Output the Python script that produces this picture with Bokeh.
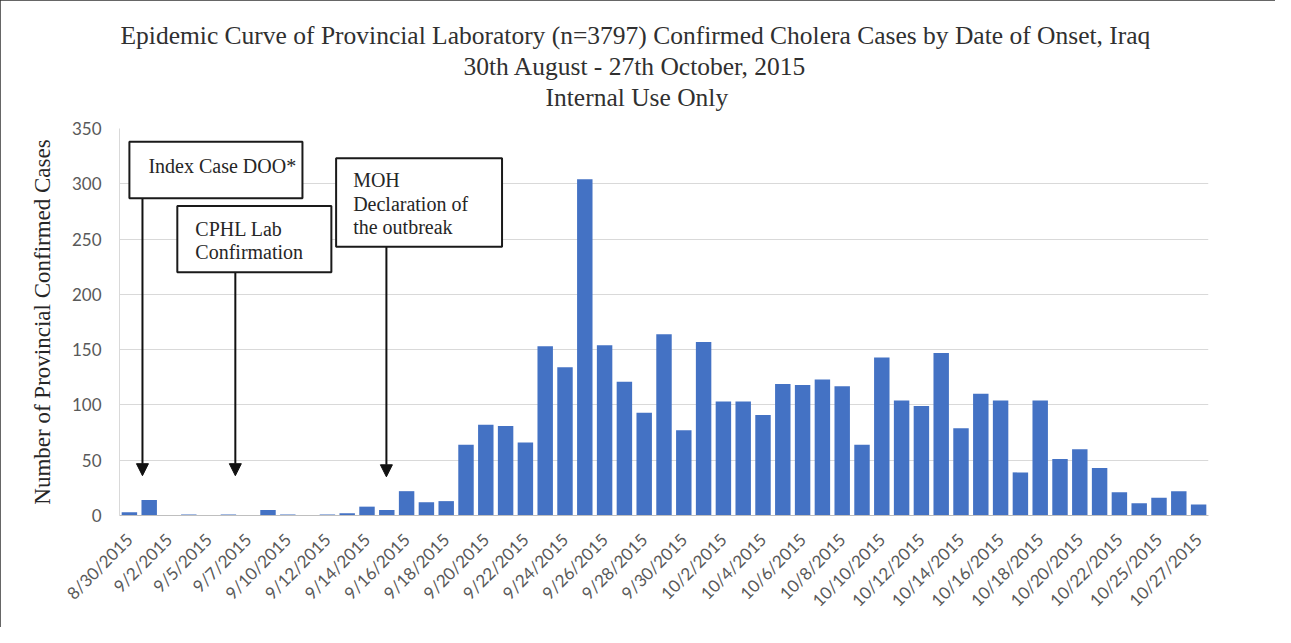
import math
from bokeh.plotting import figure
from bokeh.models import (FixedTicker, Arrow, NormalHead, BoxAnnotation, Label,
                          ColumnDataSource, Range1d, Title)
from bokeh.embed import file_html
from bokeh.resources import INLINE

# ---------------- data ----------------
dates = ["8/30/2015", "9/1/2015", "9/2/2015", "9/4/2015", "9/5/2015", "9/6/2015",
         "9/7/2015", "9/9/2015", "9/10/2015", "9/11/2015", "9/12/2015", "9/13/2015",
         "9/14/2015", "9/15/2015", "9/16/2015", "9/17/2015", "9/18/2015", "9/19/2015",
         "9/20/2015", "9/21/2015", "9/22/2015", "9/23/2015", "9/24/2015", "9/25/2015",
         "9/26/2015", "9/27/2015", "9/28/2015", "9/29/2015", "9/30/2015", "10/1/2015",
         "10/2/2015", "10/3/2015", "10/4/2015", "10/5/2015", "10/6/2015", "10/7/2015",
         "10/8/2015", "10/9/2015", "10/10/2015", "10/11/2015", "10/12/2015", "10/13/2015",
         "10/14/2015", "10/15/2015", "10/16/2015", "10/17/2015", "10/18/2015", "10/19/2015",
         "10/20/2015", "10/21/2015", "10/22/2015", "10/23/2015", "10/25/2015", "10/26/2015",
         "10/27/2015"]
cases = [3, 14, 0, 1, 0, 1, 0, 5, 1, 0,
         1, 2, 8, 5, 22, 12, 13, 64, 82, 81,
         66, 153, 134, 304, 154, 121, 93, 164, 77, 157,
         103, 103, 91, 119, 118, 123, 117, 64, 143, 104,
         99, 147, 79, 110, 104, 39, 104, 51, 60, 43,
         21, 11, 16, 22, 10]
y_ticks = [0, 50, 100, 150, 200, 250, 300, 350]
label_step = 2

title_lines = ["Epidemic Curve of Provincial Laboratory (n=3797) Confirmed Cholera Cases by Date of Onset, Iraq",
               "30th August - 27th October, 2015",
               "Internal Use Only"]
y_title = "Number of Provincial Confirmed Cases"

# annotation boxes: (left, right, bottom, top, [(text, x, y)], arrow (x, y_start, y_end))
annotations = [
    (0.0, 8.74, 287, 338, [("Index Case DOO*", 0.96, 316)], (0.66, 287, 36)),
    (2.42, 10.2, 220, 280, [("CPHL Lab", 3.33, 259), ("Confirmation", 3.33, 238)], (5.35, 220, 36)),
    (10.44, 18.82, 243, 323, [("MOH", 11.3, 303), ("Declaration of", 11.3, 282),
                              ("the outbreak", 11.3, 261)], (12.98, 243, 35)),
]

# ---------------- figure ----------------
x = list(range(len(dates)))
src = ColumnDataSource(dict(x=x, cases=cases, date=dates))

p = figure(width=1275, height=627, output_backend="svg", toolbar_location=None,
           title=None,
           x_range=Range1d(-0.5, len(dates) - 0.5), y_range=Range1d(0, y_ticks[-1]),
           min_border_left=119, min_border_right=67, min_border_top=128,
           min_border_bottom=112)
p.styles = {"outline": "2px solid #333333", "outline-offset": "-2px"}

p.vbar(x="x", top="cases", width=0.78, source=src, fill_color="#4472c4", line_color=None)

p.outline_line_color = None
p.xgrid.grid_line_color = None
p.ygrid.grid_line_color = "#d9d9d9"
p.ygrid.grid_line_width = 1

p.yaxis.ticker = FixedTicker(ticks=y_ticks)
p.xaxis.ticker = FixedTicker(ticks=list(range(0, len(dates), label_step)))
p.xaxis.major_label_overrides = {i: dates[i] for i in range(0, len(dates), label_step)}
p.xaxis.major_label_orientation = math.pi / 4

for ax in (p.xaxis, p.yaxis):
    ax.major_tick_line_color = None
    ax.minor_tick_line_color = None
    ax.major_label_text_font = "Lato"
    ax.major_label_text_font_size = "17px"
    ax.major_label_text_color = "#595959"
p.xaxis.axis_line_color = "#bfbfbf"
p.yaxis.axis_line_color = "#d9d9d9"
p.xaxis.major_label_standoff = 15
p.yaxis.major_label_standoff = 12

p.yaxis.axis_label = y_title
p.yaxis.axis_label_text_font = "Liberation Serif"
p.yaxis.axis_label_text_font_size = "23px"
p.yaxis.axis_label_text_font_style = "normal"
p.yaxis.axis_label_text_color = "#262626"
p.yaxis.axis_label_standoff = 14

# spacer between the frame and the title block
p.add_layout(Title(text=" ", text_font_size="2px", standoff=13), "above")
# titles (added nearest-first)
title_offsets = [426, 344, 1]
for t, off in zip(reversed(title_lines), title_offsets):
    p.add_layout(Title(text=t, align="left", offset=off, standoff=0,
                       text_font="Liberation Serif", text_font_size="25.5px",
                       text_font_style="normal", text_color="#303030"), "above")

# annotations
for left, right, bottom, top, texts, arr in annotations:
    ax_, y0, y1 = arr
    p.add_layout(Arrow(end=NormalHead(size=12, fill_color="#111111", line_color="#111111"),
                       x_start=ax_, y_start=y0, x_end=ax_, y_end=y1,
                       line_color="#111111", line_width=2))
    p.add_layout(BoxAnnotation(left=left, right=right, bottom=bottom, top=top,
                               fill_color="white", fill_alpha=1.0,
                               line_color="#1a1a1a", line_width=2, line_alpha=1.0))
    for txt, tx, ty in texts:
        p.add_layout(Label(x=tx, y=ty, text=txt, text_baseline="middle",
                           text_font="Liberation Serif", text_font_size="20px",
                           text_color="#262626"))

open("out.html", "w").write(file_html(p, INLINE))
